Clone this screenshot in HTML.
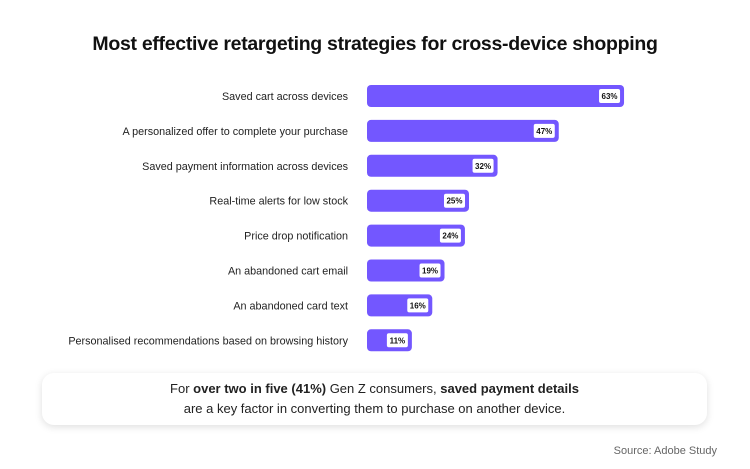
<!DOCTYPE html>
<html><head><meta charset="utf-8">
<style>
body{margin:0;background:#fff;width:750px;height:469px;overflow:hidden;font-family:"Liberation Sans",sans-serif;}
#wrap{position:relative;width:750px;height:469px;}
h1{position:absolute;left:0;width:750px;top:33px;margin:0;text-align:center;font-size:19.5px;font-weight:bold;color:#111;letter-spacing:-0.3px;}
.box{position:absolute;left:42px;top:373px;width:665px;height:52px;border-radius:12px;background:#fff;box-shadow:0 2px 8px rgba(0,0,0,0.13);text-align:center;font-size:13px;line-height:20px;color:#222;padding-top:6px;box-sizing:border-box;}
.src{position:absolute;right:33px;top:445px;font-size:11px;color:#666;}
</style></head><body>
<div id="wrap">
<h1>Most effective retargeting strategies for cross-device shopping</h1>
<svg id="chart" width="750" height="469" style="position:absolute;left:0;top:0"></svg>
<div class="box">For <b>over two in five (41%)</b> Gen Z consumers, <b>saved payment details</b><br>are a key factor in converting them to purchase on another device.</div>
<div class="src">Source: Adobe Study</div>
</div>
<script>
const categories=["Saved cart across devices","A personalized offer to complete your purchase","Saved payment information across devices","Real-time alerts for low stock","Price drop notification","An abandoned cart email","An abandoned card text","Personalised recommendations based on browsing history"];
const values=[63,47,32,25,24,19,16,11];
const valueLabels=["63%","47%","32%","25%","24%","19%","16%","11%"];
const NS="http://www.w3.org/2000/svg";
const svg=document.getElementById('chart');
const x0=367, pxPer=4.08;
function xScale(v){return x0+v*pxPer;}
function yScale(i){return 96+i*34.9;}
categories.forEach((c,i)=>{
  const yc=yScale(i);
  const g=document.createElementNS(NS,'g');
  
  
  const t=document.createElementNS(NS,'text');
  
  
  t.setAttribute('x',348);t.setAttribute('y',yc+4);t.setAttribute('text-anchor','end');
  t.setAttribute('font-size','10.8');t.setAttribute('fill','#222');t.setAttribute('font-family','Liberation Sans, sans-serif');
  t.textContent=c;g.appendChild(t);
  const xe=xScale(values[i]);
  const r=document.createElementNS(NS,'rect');
  
  
  r.setAttribute('x',x0);r.setAttribute('y',yc-11);r.setAttribute('width',xe-x0);r.setAttribute('height',22);
  r.setAttribute('rx',4);r.setAttribute('fill','#7357ff');g.appendChild(r);
  const lb=document.createElementNS(NS,'rect');
  
  
  lb.setAttribute('x',xe-25);lb.setAttribute('y',yc-7);lb.setAttribute('width',21);lb.setAttribute('height',14);
  lb.setAttribute('rx',2);lb.setAttribute('fill','#fff');g.appendChild(lb);
  const vt=document.createElementNS(NS,'text');
  
  
  vt.setAttribute('x',xe-14.5);vt.setAttribute('y',yc+3);vt.setAttribute('text-anchor','middle');
  vt.setAttribute('font-size','8');vt.setAttribute('font-weight','bold');vt.setAttribute('fill','#111');vt.setAttribute('font-family','Liberation Sans, sans-serif');
  vt.textContent=valueLabels[i];g.appendChild(vt);
  svg.appendChild(g);
});
</script>
</body></html>
